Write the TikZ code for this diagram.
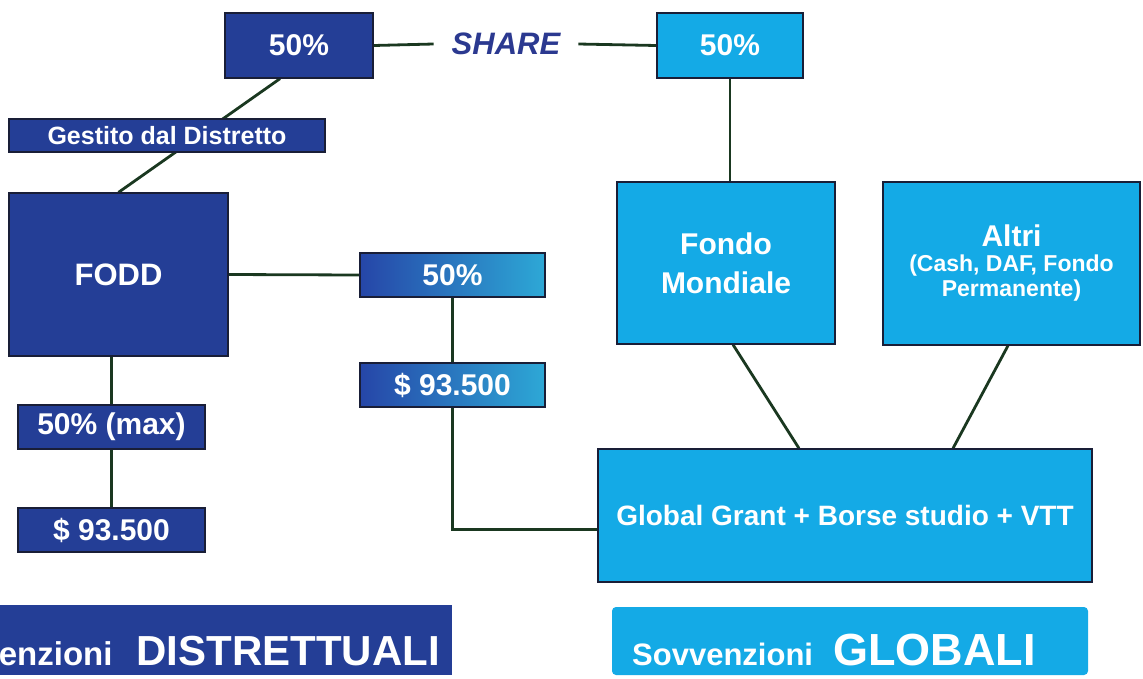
\documentclass[tikz,border=0pt]{standalone}
\usepackage{fontspec}
\setmainfont{Liberation Sans}
\usetikzlibrary{calc}
\definecolor{dblue}{RGB}{36,62,150}
\definecolor{lblue}{RGB}{20,170,230}
\definecolor{gleft}{RGB}{38,70,168}
\definecolor{gright}{RGB}{45,168,214}
\definecolor{linecol}{RGB}{26,56,32}
\definecolor{edgecol}{RGB}{25,30,55}
\definecolor{sharecol}{RGB}{43,57,144}
\pgfdeclarelayer{bg}
\pgfsetlayers{bg,main}
\newcommand{\myfs}[2]{\fontsize{#1}{#2}\selectfont}
\begin{document}
\begin{tikzpicture}[x=1pt,y=-1pt,
  box/.style={draw=edgecol, line width=1.3pt, text=white, inner sep=0pt, align=center, font=\bfseries},
  darkbox/.style={box, fill=dblue},
  lightbox/.style={box, fill=lblue},
  gradbox/.style={box, left color=gleft, right color=gright},
  conn/.style={draw=linecol, line width=2.8pt},
  bannertext/.style={text=white, font=\bfseries, inner sep=0pt}
]
\useasboundingbox (0,0) rectangle (1143,678);
\clip (0,0) rectangle (1143,678);

% top row
\node[darkbox, minimum width=148pt, minimum height=65pt, font=\bfseries\myfs{30}{36}] (p50L) at (299,45.5) {50\%};
\node[text=sharecol, font=\bfseries\itshape\myfs{31}{36}, inner xsep=18pt, inner ysep=2pt] (share) at (506,44) {SHARE};
\node[lightbox, minimum width=146pt, minimum height=65pt, font=\bfseries\myfs{30}{36}] (p50R) at (730,45.5) {50\%};

% left column
\node[darkbox, minimum width=316pt, minimum height=33pt, font=\bfseries\myfs{25}{30}] (gest) at (167,135.5) {Gestito dal Distretto};
\node[darkbox, minimum width=219pt, minimum height=163pt, font=\bfseries\myfs{31}{36}] (fodd) at (118.5,274.5) {FODD};
\node[darkbox, minimum width=187pt, minimum height=44pt, font=\bfseries\myfs{30}{36}] (max) at (111.5,427) {50\% (max)};
\node[darkbox, minimum width=187pt, minimum height=44pt, font=\bfseries\myfs{30}{36}] (dolL) at (111.5,530) {\$ 93.500};

% middle gradient column
\node[gradbox, minimum width=185pt, minimum height=44pt, font=\bfseries\myfs{30}{36}] (g50) at (452.5,275) {50\%};
\node[gradbox, minimum width=185pt, minimum height=44pt, font=\bfseries\myfs{30}{36}] (gdol) at (452.5,385) {\$ 93.500};

% right column
\node[lightbox, minimum width=218pt, minimum height=162pt, font=\bfseries\myfs{30}{39}] (fondo) at (726,263) {Fondo\\Mondiale};
\node[lightbox, minimum width=257pt, minimum height=163pt, font=\bfseries\myfs{23}{25}] (altri) at (1011.5,263.5)
  {{\myfs{30}{30}Altri}\\(Cash, DAF, Fondo\\Permanente)};
\node[lightbox, minimum width=494pt, minimum height=133pt, font=\bfseries\myfs{28}{32}] (global) at (845,515.5) {Global Grant + Borse studio + VTT};

% banners
\node[fill=dblue, minimum width=472pt, minimum height=70pt, inner sep=0pt] (bannerL) at (216,640) {};
\node[bannertext, anchor=base east] (bannerLtext) at (440,665) {{\myfs{33}{36}Sovvenzioni}\hspace*{24pt}{\myfs{42}{46}DISTRETTUALI}};
\node[fill=lblue, rounded corners=4pt, minimum width=476pt, minimum height=68pt, inner sep=0pt] (bannerR) at (850,641) {};
\node[bannertext, anchor=base west] (bannerRtext) at (632,665) {{\myfs{31}{36}Sovvenzioni}\hspace*{20pt}{\myfs{45}{50}GLOBALI}};

% connectors
\begin{pgfonlayer}{bg}
\draw[conn] (p50L.east) -- (share.west);
\draw[conn] (share.east) -- (p50R.west);
\draw[conn] ($(p50L.south)+(-19,0)$) -- (fodd.north);
\draw[conn] (fodd.east) -- (g50.west);
\draw[conn] (max.north |- fodd.south) -- (dolL.north);
\draw[conn] (g50.south) -- (gdol.north);
\draw[conn] (gdol.south) |- ($(global.west)+(0,14)$);
\draw[conn] (p50R.south) -- (p50R.south |- fondo.north);
\draw[conn] ($(fondo.south)+(7,0)$) -- ($(global.north)+(-46,0)$);
\draw[conn] ($(altri.south)+(-3.5,0)$) -- ($(global.north)+(108,0)$);
\end{pgfonlayer}
\end{tikzpicture}
\end{document}
